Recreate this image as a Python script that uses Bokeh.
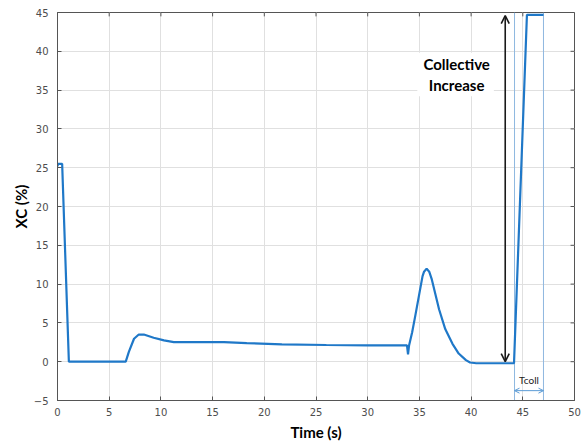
from bokeh.plotting import figure
from bokeh.models import Range1d, Arrow, OpenHead, SingleIntervalTicker, ColumnDataSource
from bokeh.core.properties import value
from bokeh.embed import file_html
from bokeh.resources import INLINE

# Collective pitch trace XC (%) against time (s)
time_s = [0.0, 0.05, 0.45, 1.1, 6.6, 6.9, 7.4, 7.86, 8.35, 9.3, 10.3, 11.25,
          16.1, 18.3, 21.7, 26.0, 30.0, 33.8, 33.9, 34.0, 34.3, 34.6, 34.95,
          35.3, 35.45, 35.7, 35.95, 36.2, 36.9, 37.5, 38.2, 38.8, 39.5, 39.9,
          40.5, 44.15, 45.4, 47.0]
xc_pct = [25.2, 25.5, 25.5, 0.0, 0.0, 1.26, 2.96, 3.5, 3.5, 3.08, 2.74, 2.52,
          2.52, 2.4, 2.23, 2.15, 2.1, 2.1, 0.96, 2.1, 3.8, 5.9, 8.45,
          11.0, 11.6, 12.0, 11.6, 10.6, 6.76, 4.2, 2.3, 1.05, 0.2, -0.1,
          -0.2, -0.2, 44.7, 44.7]

# Collective step window (start / end of the increase)
t_coll_start = 44.2
t_coll_end = 47.0
xc_low = 0.0
xc_high = 44.6
arrow_time = 43.3

x_ticks = [0, 5, 10, 15, 20, 25, 30, 35, 40, 45, 50]
y_ticks = [-5, 0, 5, 10, 15, 20, 25, 30, 35, 40, 45]

X_MIN, X_MAX, Y_MIN, Y_MAX = 0, 50, -5, 45

p = figure(width=583, height=443, output_backend="svg", toolbar_location=None,
           x_range=Range1d(X_MIN, X_MAX), y_range=Range1d(Y_MIN, Y_MAX),
           min_border_left=57, min_border_right=9, min_border_top=12,
           min_border_bottom=37, background_fill_color="white",
           border_fill_color="white")

axis_col = "#555555"
tick_col = "#4d4d4d"

for ax in (p.xaxis[0], p.yaxis[0]):
    ax.axis_line_color = axis_col
    ax.major_tick_line_color = axis_col
    ax.major_tick_in = 4
    ax.major_tick_out = 0
    ax.minor_tick_line_color = None
    ax.major_label_text_font = "DejaVu Sans"
    ax.major_label_text_font_size = "10px"
    ax.major_label_text_color = tick_col
    ax.axis_label_text_font = "Lato"
    ax.axis_label_text_font_style = "bold"
    ax.axis_label_text_font_size = "15px"
    ax.axis_label_text_color = "black"

p.xaxis[0].ticker = SingleIntervalTicker(interval=5)
p.yaxis[0].ticker = SingleIntervalTicker(interval=5)
p.xaxis[0].axis_label = "Time (s)"
p.yaxis[0].axis_label = "XC (%)"
p.xaxis[0].major_label_standoff = 3
p.xaxis[0].axis_label_standoff = 4
p.yaxis[0].major_label_standoff = 5
p.yaxis[0].axis_label_standoff = 1

p.xgrid.ticker = SingleIntervalTicker(interval=5)
p.ygrid.ticker = SingleIntervalTicker(interval=5)
p.grid.grid_line_color = "#e0e0e0"
p.grid.grid_line_width = 1
p.outline_line_color = axis_col

# Inward ticks along the top and right edges of the box
p.segment(x0=x_ticks, y0=[Y_MAX] * len(x_ticks), x1=x_ticks,
          y1=[Y_MAX - 0.5] * len(x_ticks), line_color=axis_col, line_width=1)
p.segment(x0=[X_MAX] * len(y_ticks), y0=y_ticks, x1=[X_MAX - 0.38] * len(y_ticks),
          y1=y_ticks, line_color=axis_col, line_width=1)

# Step window markers
p.segment(x0=[t_coll_start, t_coll_end], y0=[Y_MIN, Y_MIN], x1=[t_coll_start, t_coll_end],
          y1=[Y_MAX, Y_MAX], line_color="#8fb8e0", line_width=1)

# Main trace
src = ColumnDataSource(dict(t=time_s, xc=xc_pct))
p.line("t", "xc", source=src, line_color="#1f78c8", line_width=2.2)

# Collective increase arrow
p.add_layout(Arrow(start=OpenHead(size=8, line_color="#1a1a1a", line_width=1.6),
                   end=OpenHead(size=8, line_color="#1a1a1a", line_width=1.6),
                   x_start=arrow_time, y_start=xc_low, x_end=arrow_time, y_end=xc_high,
                   line_color="#1a1a1a", line_width=1.6))

# Tcoll duration arrow
p.add_layout(Arrow(start=OpenHead(size=5, line_color="#5b9bd5", line_width=1),
                   end=OpenHead(size=5, line_color="#5b9bd5", line_width=1),
                   x_start=t_coll_start, y_start=-3.73, x_end=t_coll_end, y_end=-3.73,
                   line_color="#5b9bd5", line_width=1))
p.text(x=[(t_coll_start + t_coll_end) / 2], y=[-2.35], text=["Tcoll"],
       text_align="center", text_baseline="middle", text_font=value("Lato"),
       text_font_size="10px", text_color="#222222")

# Label box for the increase annotation
p.quad(left=[34.8], right=[42.2], bottom=[34.2], top=[39.8], fill_color="white",
       line_color=None)
p.text(x=[38.6, 38.6], y=[38.3, 35.6], text=["Collective", "Increase"],
       text_align="center", text_baseline="middle", text_font=value("Lato"),
       text_font_style="bold", text_font_size="15px", text_color="black")

open("out.html", "w").write(file_html(p, INLINE))
